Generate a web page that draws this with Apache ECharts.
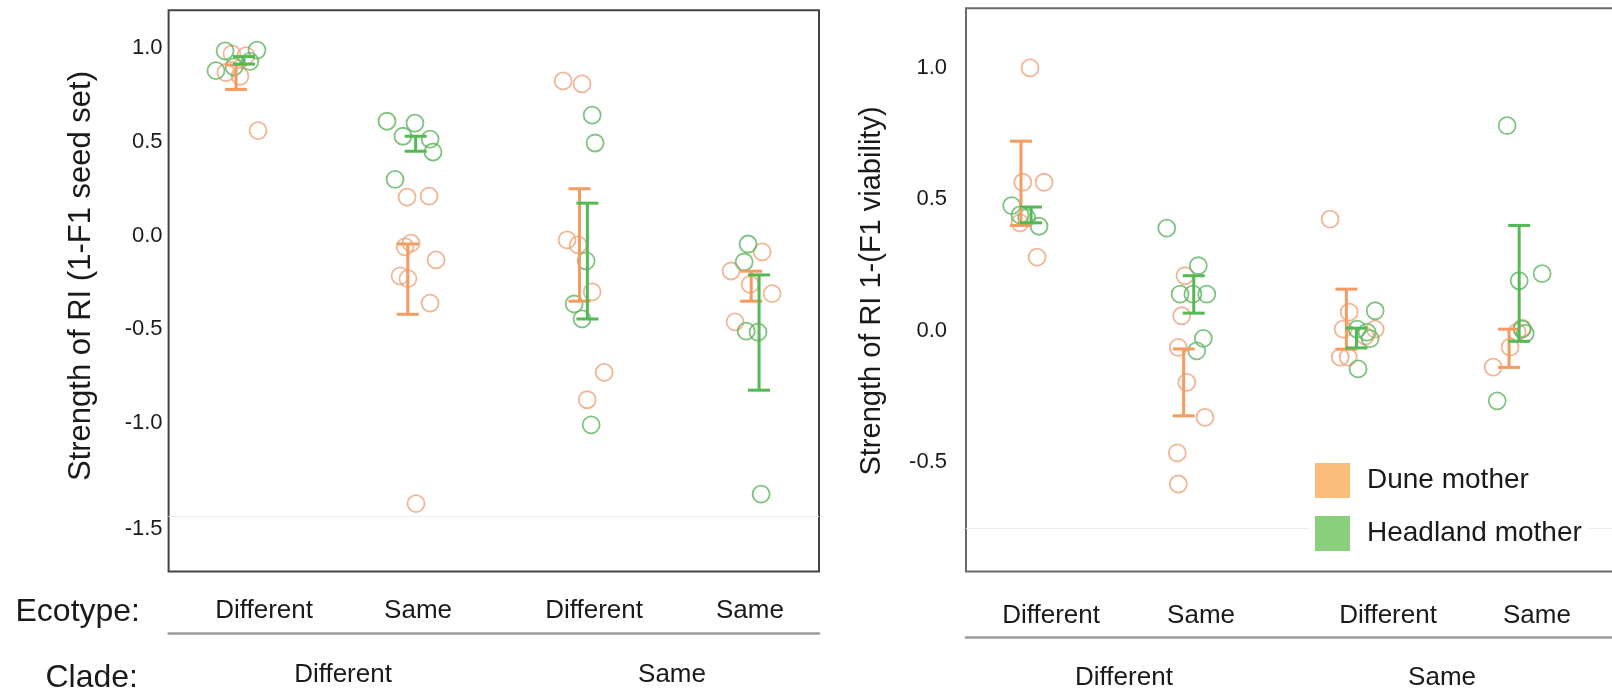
<!DOCTYPE html>
<html>
<head>
<meta charset="utf-8">
<script src="https://cdn.jsdelivr.net/npm/echarts@6/dist/echarts.min.js"></script>
<style>
html,body{margin:0;padding:0;background:#ffffff;}
#chart{width:1612px;height:689px;}
</style>
</head>
<body>
<div id="chart"></div>
<script>
// ---------- categories / tick labels ----------
const ecotypeLabels = ['Different', 'Same', 'Different', 'Same'];
const cladeLabels = ['Different', 'Same'];
const motherNames = ['Dune mother', 'Headland mother'];
const seedTicks = [-1.5, -1.0, -0.5, 0.0, 0.5, 1.0];
const viabTicks = [-0.5, 0.0, 0.5, 1.0];

// ---------- Panel 1: Strength of RI (1-F1 seed set) ----------
const seedDuneGroup  = [1,1,1,1,1, 2,2,2,2,2,2,2,2,2, 3,3,3,3,3,3,3, 4,4,4,4,4];
const seedDuneJitter = [-0.047,0.035,-0.082,0,0.105, -0.027,0.101,-0.039,-0.004,0.142,-0.068,-0.022,0.107,0.025, -0.118,-0.008,-0.095,-0.031,0.051,0.121,0.022, 0.041,-0.14,0.099,-0.117,-0.029];
const seedDuneValue  = [0.97,0.96,0.87,0.85,0.56, 0.205,0.21,-0.06,-0.04,-0.13,-0.215,-0.23,-0.36,-1.43, 0.825,0.809,-0.023,-0.05,-0.30,-0.73,-0.876, -0.087,-0.189,-0.31,-0.46,-0.26];
const seedHeadGroup  = [1,1,1,1,1, 2,2,2,2,2,2, 3,3,3,3,3,3, 4,4,4,4,4];
const seedHeadJitter = [-0.087,0.099,-0.14,-0.035,0.058, -0.144,0.019,-0.051,0.107,0.124,-0.097, 0.051,0.068,0.016,-0.054,-0.008,0.045, -0.041,-0.064,-0.052,0.017,0.035];
const seedHeadValue  = [0.985,0.99,0.88,0.90,0.93, 0.61,0.60,0.53,0.515,0.446,0.30, 0.643,0.494,-0.135,-0.365,-0.445,-1.01, -0.045,-0.141,-0.51,-0.515,-1.38];
const seedDuneLow  = [0.78, -0.42, -0.35, -0.35];
const seedDuneHigh = [0.91, -0.045, 0.25, -0.19];
const seedHeadLow  = [0.915, 0.45, -0.445, -0.825];
const seedHeadHigh = [0.955, 0.53, 0.173, -0.21];

// ---------- Panel 2: Strength of RI 1-(F1 viability) ----------
const viabDuneGroup  = [1,1,1,1,1, 2,2,2,2,2,2,2, 3,3,3,3,3,3,3, 4,4,4,4];
const viabDuneJitter = [0.025,-0.02,0.111,0.068,-0.037, -0.023,-0.043,-0.064,-0.012,0.1,-0.07,-0.064, -0.131,-0.014,-0.051,0.146,-0.069,-0.02,0.084, 0.049,0.018,-0.025,-0.129];
const viabDuneValue  = [0.998,0.564,0.564,0.28,0.41, 0.209,0.057,-0.063,-0.196,-0.329,-0.464,-0.582, 0.424,0.071,0.006,0.006,-0.1,-0.1,-0.02, 0.01,-0.005,-0.062,-0.138];
const viabHeadGroup  = [1,1,1,1, 2,2,2,2,2,2,2, 3,3,3,3,3, 4,4,4,4,4,4];
const viabHeadJitter = [-0.088,0.004,0.08,-0.037, -0.135,0.059,-0.053,0.111,0.026,0.09,0.049, 0.146,0.035,0.096,0.041,0.115, -0.043,0.031,0.172,0.049,0.068,-0.104];
const viabHeadValue  = [0.475,0.43,0.397,0.44, 0.39,0.247,0.139,0.139,0.139,-0.029,-0.076, 0.076,0.006,-0.005,-0.145,-0.03, 0.779,0.19,0.217,0.006,-0.01,-0.266];
const viabDuneLow  = [0.40, -0.323, -0.07, -0.139];
const viabDuneHigh = [0.72, -0.069, 0.158, 0.006];
const viabHeadLow  = [0.41, 0.067, -0.065, -0.04];
const viabHeadHigh = [0.47, 0.209, 0.01, 0.40];

// ---------- styling ----------
const FONT = '"Liberation Sans", Arial, Helvetica, sans-serif';
const TXT = '#1a1a1a';
const duneCircle = '#EEA47C';
const headCircle = '#5FB45F';
const duneBar = '#F39B60';
const headBar = '#54B854';
const duneLegend = '#F9AB59';
const headLegend = '#6BC35B';

function points(group, jitter, value) {
  return group.map((g, i) => [g + jitter[i], value[i]]);
}
function bars(low, high, shift) {
  return low.map((lo, i) => [i + 1 + shift, lo, high[i]]);
}
function errorBarRenderer(color) {
  return function (params, api) {
    const x = api.value(0), lo = api.value(1), hi = api.value(2);
    const a = api.coord([x, hi]);
    const b = api.coord([x, lo]);
    const cap = 11;
    const style = { stroke: color, lineWidth: 3, fill: null };
    return {
      type: 'group',
      children: [
        { type: 'line', shape: { x1: a[0], y1: a[1], x2: b[0], y2: b[1] }, style: style },
        { type: 'line', shape: { x1: a[0] - cap, y1: a[1], x2: a[0] + cap, y2: a[1] }, style: style },
        { type: 'line', shape: { x1: b[0] - cap, y1: b[1], x2: b[0] + cap, y2: b[1] }, style: style }
      ]
    };
  };
}

// panel geometry (x data range chosen so the group centres fall where the reference has them)
const P = [
  { grid: { left: 168.6, top: 10.3, width: 650.4, height: 561.3 }, xmin: 0.5842, xmax: 4.372,
    ymin: -1.793, ymax: 1.202, ticks: seedTicks, border: '#444444',
    ecoPos: [1.14, 2.037, 3.062, 3.97], cladePos: [1.60, 3.516],
    ecoMargin: 26, cladeOffset: 61.4, cladeMargin: 29, labelMargin: 6, barShift: 0.023, faint: -1.5 },
  { grid: { left: 966, top: 8.2, width: 656, height: 563.4 }, xmin: 0.6312, xmax: 4.663,
    ymin: -0.9146, ymax: 1.225, ticks: viabTicks, border: '#6a6a6a',
    ecoPos: [1.154, 2.076, 3.225, 4.14], cladePos: [1.602, 3.557],
    ecoMargin: 31, cladeOffset: 65.4, cladeMargin: 28, labelMargin: 19, barShift: 0.031, faint: -0.75 }
];

const grids = [], xAxes = [], yAxes = [];
P.forEach((p, k) => {
  grids.push(Object.assign({ show: true, borderColor: p.border, borderWidth: 2, backgroundColor: 'transparent', containLabel: false, outerBoundsMode: 'none' }, p.grid));
  // data axis
  xAxes.push({ type: 'value', gridIndex: k, min: p.xmin, max: p.xmax, show: false });
  // ecotype labels
  xAxes.push({ type: 'value', gridIndex: k, min: p.xmin, max: p.xmax, position: 'bottom', offset: 0,
    axisLine: { show: false }, axisTick: { show: false }, splitLine: { show: false },
    axisLabel: { customValues: p.ecoPos, margin: p.ecoMargin, fontSize: 26, color: TXT, fontFamily: FONT,
      formatter: function (v) { return ecotypeLabels[p.ecoPos.indexOf(v)] || ''; } } });
  // clade labels + separator line
  xAxes.push({ type: 'value', gridIndex: k, min: p.xmin, max: p.xmax, position: 'bottom', offset: p.cladeOffset,
    axisLine: { show: true, lineStyle: { color: '#9a9a9a', width: 2.5 } }, axisTick: { show: false }, splitLine: { show: false },
    axisLabel: { customValues: p.cladePos, margin: p.cladeMargin, fontSize: 26, color: TXT, fontFamily: FONT,
      formatter: function (v) { return cladeLabels[p.cladePos.indexOf(v)] || ''; } } });
  yAxes.push({ type: 'value', gridIndex: k, min: p.ymin, max: p.ymax,
    axisLine: { show: false }, axisTick: { show: false }, splitLine: { show: false },
    axisLabel: { customValues: p.ticks, margin: p.labelMargin, fontSize: 22, color: TXT, fontFamily: FONT,
      formatter: function (v) { return v === -1.5 ? '{low|-1.5}' : v.toFixed(1); },
      rich: { low: { fontSize: 22, color: TXT, fontFamily: FONT, padding: [24, 0, 0, 0] } } } });
});

const panelData = [
  { dune: points(seedDuneGroup, seedDuneJitter, seedDuneValue), head: points(seedHeadGroup, seedHeadJitter, seedHeadValue),
    duneBars: bars(seedDuneLow, seedDuneHigh, -P[0].barShift), headBars: bars(seedHeadLow, seedHeadHigh, P[0].barShift) },
  { dune: points(viabDuneGroup, viabDuneJitter, viabDuneValue), head: points(viabHeadGroup, viabHeadJitter, viabHeadValue),
    duneBars: bars(viabDuneLow, viabDuneHigh, -P[1].barShift), headBars: bars(viabHeadLow, viabHeadHigh, P[1].barShift) }
];

const series = [];
panelData.forEach((d, k) => {
  const xi = k * 3, yi = k;
  series.push({ name: motherNames[0], type: 'scatter', xAxisIndex: xi, yAxisIndex: yi, data: d.dune,
    symbol: 'circle', symbolSize: 17, z: 3,
    itemStyle: { color: 'rgba(255,255,255,0)', borderColor: duneCircle, borderWidth: 1.8 },
    markLine: { silent: true, symbol: ['none', 'none'], label: { show: false }, z: 1,
      lineStyle: { color: '#ececec', width: 1, type: 'solid' }, data: [{ yAxis: P[k].faint }] } });
  series.push({ name: motherNames[1], type: 'scatter', xAxisIndex: xi, yAxisIndex: yi, data: d.head,
    symbol: 'circle', symbolSize: 17, z: 3,
    itemStyle: { color: 'rgba(255,255,255,0)', borderColor: headCircle, borderWidth: 1.8 } });
  series.push({ name: motherNames[0], type: 'custom', xAxisIndex: xi, yAxisIndex: yi, data: d.duneBars,
    encode: { x: 0, y: [1, 2] }, renderItem: errorBarRenderer(duneBar), z: 4 });
  series.push({ name: motherNames[1], type: 'custom', xAxisIndex: xi, yAxisIndex: yi, data: d.headBars,
    encode: { x: 0, y: [1, 2] }, renderItem: errorBarRenderer(headBar), z: 4 });
});

const option = {
  animation: false,
  backgroundColor: '#ffffff',
  textStyle: { fontFamily: FONT },
  grid: grids,
  xAxis: xAxes,
  yAxis: yAxes,
  legend: {
    orient: 'vertical', left: 1309, top: 457, itemWidth: 35, itemHeight: 35, itemGap: 18,
    icon: 'rect', padding: 6, backgroundColor: '#ffffff', z: 10,
    textStyle: { fontSize: 28, color: TXT, fontFamily: FONT, padding: [0, 0, 0, 12] },
    data: [
      { name: motherNames[0], icon: 'rect', itemStyle: { color: duneLegend, borderWidth: 0 } },
      { name: motherNames[1], icon: 'rect', itemStyle: { color: headLegend, borderWidth: 0 } }
    ]
  },
  graphic: [
    { type: 'text', x: 81, y: 276, rotation: Math.PI / 2,
      style: { text: 'Strength of RI (1-F1 seed set)', fontSize: 31, fill: TXT, fontFamily: FONT, textAlign: 'center', textVerticalAlign: 'middle' } },
    { type: 'text', x: 872, y: 291, rotation: Math.PI / 2,
      style: { text: 'Strength of RI 1-(F1 viability)', fontSize: 29, fill: TXT, fontFamily: FONT, textAlign: 'center', textVerticalAlign: 'middle' } },
    { type: 'text', x: 140, y: 612,
      style: { text: 'Ecotype:', fontSize: 32, fill: TXT, fontFamily: FONT, textAlign: 'right', textVerticalAlign: 'middle' } },
    { type: 'text', x: 138, y: 678,
      style: { text: 'Clade:', fontSize: 32, fill: TXT, fontFamily: FONT, textAlign: 'right', textVerticalAlign: 'middle' } }
  ],
  series: series
};

const chart = echarts.init(document.getElementById('chart'), null, { renderer: 'canvas' });
chart.setOption(option);
</script>
</body>
</html>
